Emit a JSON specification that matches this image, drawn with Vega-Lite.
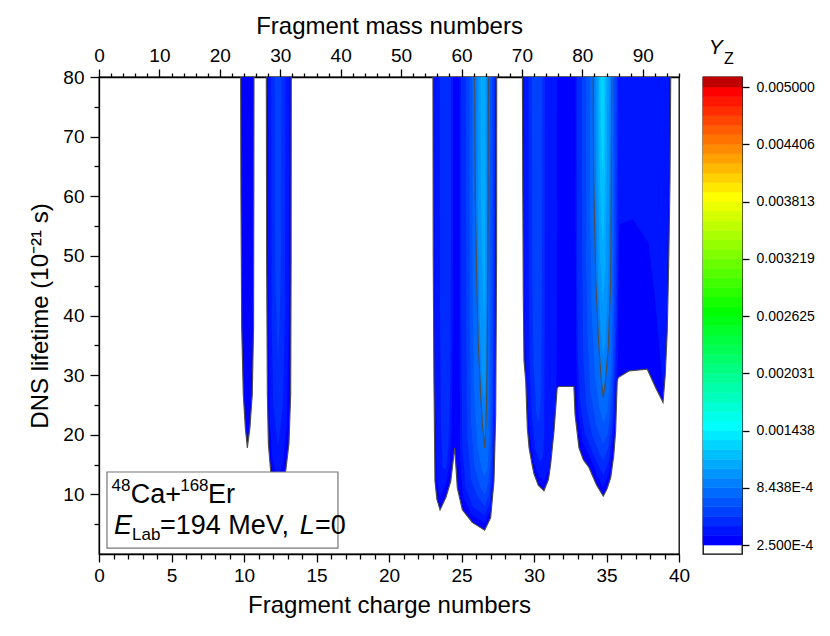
{
  "$schema": "https://vega.github.io/schema/vega-lite/v6.json",
  "background": "white",
  "padding": {"left": 28, "top": 13, "right": 5, "bottom": 5},
  "config": {
    "font": "Liberation Sans",
    "view": {"stroke": "black", "strokeWidth": 1.3},
    "axis": {"domainColor": "black", "domainWidth": 1.3, "tickColor": "black", "tickWidth": 1.3, "labelColor": "black", "titleColor": "black", "labelFont": "Liberation Sans", "titleFont": "Liberation Sans", "titleFontWeight": "normal", "grid": false, "labelFontSize": 19, "titleFontSize": 24}
  },
  "datasets": {
    "fingers": [
      {"f":"A0","k":0,"z":9.77,"t":80},{"f":"A0","k":0,"z":9.79,"t":60},{"f":"A0","k":0,"z":9.84,"t":38},{"f":"A0","k":0,"z":9.95,"t":26.8},{"f":"A0","k":0,"z":10.09,"t":21.2},{"f":"A0","k":0,"z":10.23,"t":17.8},{"f":"A0","k":0,"z":10.41,"t":21.2},{"f":"A0","k":0,"z":10.57,"t":26.8},{"f":"A0","k":0,"z":10.66,"t":38},{"f":"A0","k":0,"z":10.68,"t":60},{"f":"A0","k":0,"z":10.69,"t":80},

      {"f":"B0","k":0,"z":11.54,"t":80},{"f":"B0","k":0,"z":11.56,"t":50},{"f":"B0","k":0,"z":11.61,"t":26.8},{"f":"B0","k":0,"z":11.68,"t":18.5},{"f":"B0","k":0,"z":11.84,"t":13.8},{"f":"B0","k":0,"z":12.05,"t":10.5},{"f":"B0","k":0,"z":12.35,"t":9},{"f":"B0","k":0,"z":12.65,"t":10.5},{"f":"B0","k":0,"z":12.87,"t":13.8},{"f":"B0","k":0,"z":13.1,"t":18.5},{"f":"B0","k":0,"z":13.22,"t":26.8},{"f":"B0","k":0,"z":13.25,"t":50},{"f":"B0","k":0,"z":13.26,"t":80},
      {"f":"B1","k":1,"z":11.66,"t":80},{"f":"B1","k":1,"z":11.69,"t":40},{"f":"B1","k":1,"z":11.78,"t":22},{"f":"B1","k":1,"z":11.98,"t":15.5},{"f":"B1","k":1,"z":12.35,"t":12.5},{"f":"B1","k":1,"z":12.72,"t":15.5},{"f":"B1","k":1,"z":12.95,"t":22},{"f":"B1","k":1,"z":13.1,"t":40},{"f":"B1","k":1,"z":13.14,"t":80},
      {"f":"B2","k":2,"z":11.86,"t":80},{"f":"B2","k":2,"z":11.9,"t":40},{"f":"B2","k":2,"z":12.02,"t":25},{"f":"B2","k":2,"z":12.35,"t":18},{"f":"B2","k":2,"z":12.68,"t":25},{"f":"B2","k":2,"z":12.82,"t":40},{"f":"B2","k":2,"z":12.86,"t":80},
      {"f":"B3","k":3,"z":12.12,"t":80},{"f":"B3","k":3,"z":12.16,"t":45},{"f":"B3","k":3,"z":12.35,"t":32},{"f":"B3","k":3,"z":12.52,"t":45},{"f":"B3","k":3,"z":12.58,"t":80},

      {"f":"C0","k":0,"z":23.03,"t":80},{"f":"C0","k":0,"z":23.05,"t":50},{"f":"C0","k":0,"z":23.1,"t":29},{"f":"C0","k":0,"z":23.17,"t":12.2},{"f":"C0","k":0,"z":23.3,"t":9.2},{"f":"C0","k":0,"z":23.52,"t":7.4},{"f":"C0","k":0,"z":23.93,"t":9.5},{"f":"C0","k":0,"z":24.26,"t":12.2},{"f":"C0","k":0,"z":24.53,"t":17.8},{"f":"C0","k":0,"z":24.71,"t":11.1},{"f":"C0","k":0,"z":25.06,"t":7.4},{"f":"C0","k":0,"z":25.74,"t":5.3},{"f":"C0","k":0,"z":26.6,"t":4.0},{"f":"C0","k":0,"z":27.01,"t":6.1},{"f":"C0","k":0,"z":27.24,"t":12.2},{"f":"C0","k":0,"z":27.36,"t":23.5},{"f":"C0","k":0,"z":27.42,"t":50},{"f":"C0","k":0,"z":27.43,"t":80},
      {"f":"C1L","k":1,"z":23.12,"t":80},{"f":"C1L","k":1,"z":23.14,"t":40},{"f":"C1L","k":1,"z":23.2,"t":20},{"f":"C1L","k":1,"z":23.3,"t":12.5},{"f":"C1L","k":1,"z":23.52,"t":9.6},{"f":"C1L","k":1,"z":23.9,"t":11.5},{"f":"C1L","k":1,"z":24.18,"t":15},{"f":"C1L","k":1,"z":24.34,"t":22},{"f":"C1L","k":1,"z":24.4,"t":40},{"f":"C1L","k":1,"z":24.41,"t":80},
      {"f":"C2L","k":2,"z":23.5,"t":80},{"f":"C2L","k":2,"z":23.52,"t":40},{"f":"C2L","k":2,"z":23.58,"t":22},{"f":"C2L","k":2,"z":23.7,"t":14.5},{"f":"C2L","k":2,"z":23.92,"t":14.2},{"f":"C2L","k":2,"z":24.1,"t":18},{"f":"C2L","k":2,"z":24.22,"t":28},{"f":"C2L","k":2,"z":24.26,"t":50},{"f":"C2L","k":2,"z":24.27,"t":80},
      {"f":"C1R","k":1,"z":24.85,"t":80},{"f":"C1R","k":1,"z":24.86,"t":40},{"f":"C1R","k":1,"z":24.9,"t":16},{"f":"C1R","k":1,"z":25.1,"t":9.6},{"f":"C1R","k":1,"z":25.7,"t":6.6},{"f":"C1R","k":1,"z":26.6,"t":5.2},{"f":"C1R","k":1,"z":27.0,"t":7.3},{"f":"C1R","k":1,"z":27.19,"t":12.8},{"f":"C1R","k":1,"z":27.3,"t":22.5},{"f":"C1R","k":1,"z":27.36,"t":50},{"f":"C1R","k":1,"z":27.38,"t":80},
      {"f":"C2R","k":2,"z":24.97,"t":80},{"f":"C2R","k":2,"z":24.99,"t":40},{"f":"C2R","k":2,"z":25.05,"t":18},{"f":"C2R","k":2,"z":25.3,"t":11},{"f":"C2R","k":2,"z":25.8,"t":7.9},{"f":"C2R","k":2,"z":26.6,"t":6.5},{"f":"C2R","k":2,"z":26.96,"t":8.4},{"f":"C2R","k":2,"z":27.14,"t":13.3},{"f":"C2R","k":2,"z":27.25,"t":23.5},{"f":"C2R","k":2,"z":27.3,"t":50},{"f":"C2R","k":2,"z":27.32,"t":80},
      {"f":"C3","k":3,"z":25.3,"t":80},{"f":"C3","k":3,"z":25.32,"t":40},{"f":"C3","k":3,"z":25.4,"t":20},{"f":"C3","k":3,"z":25.65,"t":12.6},{"f":"C3","k":3,"z":26.1,"t":9.6},{"f":"C3","k":3,"z":26.6,"t":8.0},{"f":"C3","k":3,"z":26.9,"t":9.9},{"f":"C3","k":3,"z":27.07,"t":14.6},{"f":"C3","k":3,"z":27.17,"t":25},{"f":"C3","k":3,"z":27.21,"t":50},{"f":"C3","k":3,"z":27.22,"t":80},
      {"f":"C4","k":4,"z":25.55,"t":80},{"f":"C4","k":4,"z":25.57,"t":40},{"f":"C4","k":4,"z":25.65,"t":22},{"f":"C4","k":4,"z":25.9,"t":14.6},{"f":"C4","k":4,"z":26.3,"t":11.2},{"f":"C4","k":4,"z":26.6,"t":10.0},{"f":"C4","k":4,"z":26.85,"t":11.9},{"f":"C4","k":4,"z":27.0,"t":16},{"f":"C4","k":4,"z":27.07,"t":27},{"f":"C4","k":4,"z":27.09,"t":50},{"f":"C4","k":4,"z":27.1,"t":80},
      {"f":"C5","k":5,"z":25.75,"t":80},{"f":"C5","k":5,"z":25.77,"t":45},{"f":"C5","k":5,"z":25.85,"t":28},{"f":"C5","k":5,"z":26.1,"t":18},{"f":"C5","k":5,"z":26.4,"t":14.2},{"f":"C5","k":5,"z":26.6,"t":13.0},{"f":"C5","k":5,"z":26.8,"t":14.6},{"f":"C5","k":5,"z":26.9,"t":19},{"f":"C5","k":5,"z":26.94,"t":32},{"f":"C5","k":5,"z":26.95,"t":80},
      {"f":"C6","k":6,"z":25.91,"t":80},{"f":"C6","k":6,"z":25.95,"t":60},{"f":"C6","k":6,"z":26.07,"t":43.6},{"f":"C6","k":6,"z":26.16,"t":35.2},{"f":"C6","k":6,"z":26.32,"t":26.8},{"f":"C6","k":6,"z":26.45,"t":21.6},{"f":"C6","k":6,"z":26.6,"t":17.8},{"f":"C6","k":6,"z":26.68,"t":21.6},{"f":"C6","k":6,"z":26.74,"t":26.8},{"f":"C6","k":6,"z":26.78,"t":35.2},{"f":"C6","k":6,"z":26.8,"t":45},{"f":"C6","k":6,"z":26.83,"t":60},{"f":"C6","k":6,"z":26.85,"t":80},
      {"f":"C7","k":7,"z":26.1,"t":80},{"f":"C7","k":7,"z":26.14,"t":55},{"f":"C7","k":7,"z":26.25,"t":40},{"f":"C7","k":7,"z":26.4,"t":30},{"f":"C7","k":7,"z":26.56,"t":25.5},{"f":"C7","k":7,"z":26.66,"t":29},{"f":"C7","k":7,"z":26.72,"t":42},{"f":"C7","k":7,"z":26.74,"t":60},{"f":"C7","k":7,"z":26.75,"t":80},
      {"f":"C8","k":8,"z":26.3,"t":80},{"f":"C8","k":8,"z":26.33,"t":60},{"f":"C8","k":8,"z":26.45,"t":46},{"f":"C8","k":8,"z":26.56,"t":39},{"f":"C8","k":8,"z":26.62,"t":46},{"f":"C8","k":8,"z":26.64,"t":62},{"f":"C8","k":8,"z":26.65,"t":80},

      {"f":"D0","k":0,"z":29.2,"t":80},{"f":"D0","k":0,"z":29.23,"t":60},{"f":"D0","k":0,"z":29.26,"t":43.6},{"f":"D0","k":0,"z":29.31,"t":32.4},{"f":"D0","k":0,"z":29.43,"t":29},{"f":"D0","k":0,"z":29.54,"t":21.2},{"f":"D0","k":0,"z":29.66,"t":17.8},{"f":"D0","k":0,"z":29.85,"t":15.2},{"f":"D0","k":0,"z":30.0,"t":13.4},{"f":"D0","k":0,"z":30.3,"t":11.5},{"f":"D0","k":0,"z":30.69,"t":10.6},{"f":"D0","k":0,"z":31.0,"t":12.5},{"f":"D0","k":0,"z":31.15,"t":15.1},{"f":"D0","k":0,"z":31.38,"t":20.6},{"f":"D0","k":0,"z":31.6,"t":27.9},{"f":"D0","k":0,"z":31.72,"t":28.1},{"f":"D0","k":0,"z":32.75,"t":28.1},{"f":"D0","k":0,"z":32.83,"t":23.4},{"f":"D0","k":0,"z":33.1,"t":17.8},{"f":"D0","k":0,"z":33.4,"t":15.8},{"f":"D0","k":0,"z":33.79,"t":14.5},{"f":"D0","k":0,"z":34.3,"t":11.6},{"f":"D0","k":0,"z":34.78,"t":9.7},{"f":"D0","k":0,"z":35.05,"t":11.0},{"f":"D0","k":0,"z":35.29,"t":12.8},{"f":"D0","k":0,"z":35.5,"t":16.5},{"f":"D0","k":0,"z":35.63,"t":20.6},{"f":"D0","k":0,"z":35.74,"t":29.0},{"f":"D0","k":0,"z":35.81,"t":29.6},{"f":"D0","k":0,"z":36.55,"t":30.7},{"f":"D0","k":0,"z":37.81,"t":31.0},{"f":"D0","k":0,"z":38.39,"t":27.9},{"f":"D0","k":0,"z":38.9,"t":25.4},{"f":"D0","k":0,"z":39.05,"t":30},{"f":"D0","k":0,"z":39.19,"t":37.4},{"f":"D0","k":0,"z":39.3,"t":50},{"f":"D0","k":0,"z":39.38,"t":62.6},{"f":"D0","k":0,"z":39.43,"t":80},
      {"f":"D1a","k":1,"z":29.3,"t":80},{"f":"D1a","k":1,"z":29.32,"t":50},{"f":"D1a","k":1,"z":29.37,"t":38},{"f":"D1a","k":1,"z":29.5,"t":28},{"f":"D1a","k":1,"z":29.7,"t":20},{"f":"D1a","k":1,"z":30.0,"t":15.2},{"f":"D1a","k":1,"z":30.35,"t":13},{"f":"D1a","k":1,"z":30.69,"t":12.3},{"f":"D1a","k":1,"z":31.0,"t":14},{"f":"D1a","k":1,"z":31.2,"t":17.5},{"f":"D1a","k":1,"z":31.42,"t":23},{"f":"D1a","k":1,"z":31.54,"t":29.5},{"f":"D1a","k":1,"z":31.58,"t":45},{"f":"D1a","k":1,"z":31.6,"t":80},
      {"f":"D2a","k":2,"z":29.62,"t":80},{"f":"D2a","k":2,"z":29.64,"t":45},{"f":"D2a","k":2,"z":29.7,"t":32},{"f":"D2a","k":2,"z":29.85,"t":23},{"f":"D2a","k":2,"z":30.1,"t":17.5},{"f":"D2a","k":2,"z":30.4,"t":15.5},{"f":"D2a","k":2,"z":30.6,"t":16.2},{"f":"D2a","k":2,"z":30.7,"t":20},{"f":"D2a","k":2,"z":30.74,"t":40},{"f":"D2a","k":2,"z":30.75,"t":80},
      {"f":"D3a","k":3,"z":29.85,"t":80},{"f":"D3a","k":3,"z":29.88,"t":50},{"f":"D3a","k":3,"z":29.96,"t":33},{"f":"D3a","k":3,"z":30.15,"t":24},{"f":"D3a","k":3,"z":30.35,"t":22},{"f":"D3a","k":3,"z":30.5,"t":28},{"f":"D3a","k":3,"z":30.56,"t":50},{"f":"D3a","k":3,"z":30.57,"t":80},
      {"f":"D1b","k":1,"z":32.86,"t":80},{"f":"D1b","k":1,"z":32.88,"t":50},{"f":"D1b","k":1,"z":32.92,"t":32},{"f":"D1b","k":1,"z":33.05,"t":24},{"f":"D1b","k":1,"z":33.3,"t":19},{"f":"D1b","k":1,"z":33.9,"t":16},{"f":"D1b","k":1,"z":34.4,"t":13},{"f":"D1b","k":1,"z":34.78,"t":11.2},{"f":"D1b","k":1,"z":35.2,"t":13.8},{"f":"D1b","k":1,"z":35.5,"t":20},{"f":"D1b","k":1,"z":35.65,"t":26},{"f":"D1b","k":1,"z":35.72,"t":30},{"f":"D1b","k":1,"z":35.8,"t":33},{"f":"D1b","k":1,"z":35.86,"t":55.3},{"f":"D1b","k":1,"z":36.8,"t":56.2},{"f":"D1b","k":1,"z":37.9,"t":52.2},{"f":"D1b","k":1,"z":38.3,"t":44},{"f":"D1b","k":1,"z":38.7,"t":33},{"f":"D1b","k":1,"z":38.92,"t":27.5},{"f":"D1b","k":1,"z":39.12,"t":36},{"f":"D1b","k":1,"z":39.28,"t":60},{"f":"D1b","k":1,"z":39.34,"t":80},
      {"f":"D2b","k":2,"z":32.95,"t":80},{"f":"D2b","k":2,"z":32.97,"t":50},{"f":"D2b","k":2,"z":33.02,"t":33},{"f":"D2b","k":2,"z":33.2,"t":25},{"f":"D2b","k":2,"z":33.5,"t":20.5},{"f":"D2b","k":2,"z":34.0,"t":17.2},{"f":"D2b","k":2,"z":34.5,"t":14.6},{"f":"D2b","k":2,"z":34.78,"t":13.2},{"f":"D2b","k":2,"z":35.15,"t":15.5},{"f":"D2b","k":2,"z":35.45,"t":22},{"f":"D2b","k":2,"z":35.6,"t":30},{"f":"D2b","k":2,"z":35.72,"t":40},{"f":"D2b","k":2,"z":35.78,"t":55},{"f":"D2b","k":2,"z":35.8,"t":80},
      {"f":"D3b","k":3,"z":33.3,"t":80},{"f":"D3b","k":3,"z":33.32,"t":50},{"f":"D3b","k":3,"z":33.4,"t":33},{"f":"D3b","k":3,"z":33.6,"t":25},{"f":"D3b","k":3,"z":34.0,"t":20},{"f":"D3b","k":3,"z":34.5,"t":17},{"f":"D3b","k":3,"z":34.78,"t":15.6},{"f":"D3b","k":3,"z":35.1,"t":17.6},{"f":"D3b","k":3,"z":35.4,"t":23.5},{"f":"D3b","k":3,"z":35.55,"t":32},{"f":"D3b","k":3,"z":35.66,"t":45},{"f":"D3b","k":3,"z":35.7,"t":80},
      {"f":"D4","k":4,"z":33.57,"t":80},{"f":"D4","k":4,"z":33.6,"t":50},{"f":"D4","k":4,"z":33.7,"t":36},{"f":"D4","k":4,"z":33.9,"t":27},{"f":"D4","k":4,"z":34.3,"t":21.5},{"f":"D4","k":4,"z":34.78,"t":18.5},{"f":"D4","k":4,"z":35.1,"t":20.5},{"f":"D4","k":4,"z":35.35,"t":26.5},{"f":"D4","k":4,"z":35.48,"t":35},{"f":"D4","k":4,"z":35.53,"t":50},{"f":"D4","k":4,"z":35.55,"t":80},
      {"f":"D5","k":5,"z":33.85,"t":80},{"f":"D5","k":5,"z":33.88,"t":55},{"f":"D5","k":5,"z":33.98,"t":40},{"f":"D5","k":5,"z":34.2,"t":30},{"f":"D5","k":5,"z":34.5,"t":24.6},{"f":"D5","k":5,"z":34.78,"t":22},{"f":"D5","k":5,"z":35.05,"t":24},{"f":"D5","k":5,"z":35.3,"t":30},{"f":"D5","k":5,"z":35.42,"t":42},{"f":"D5","k":5,"z":35.44,"t":60},{"f":"D5","k":5,"z":35.45,"t":80},
      {"f":"D6","k":6,"z":34.08,"t":80},{"f":"D6","k":6,"z":34.12,"t":62.6},{"f":"D6","k":6,"z":34.26,"t":45.8},{"f":"D6","k":6,"z":34.48,"t":34.6},{"f":"D6","k":6,"z":34.65,"t":29},{"f":"D6","k":6,"z":34.78,"t":26.2},{"f":"D6","k":6,"z":34.92,"t":29},{"f":"D6","k":6,"z":35.12,"t":34.6},{"f":"D6","k":6,"z":35.29,"t":45.8},{"f":"D6","k":6,"z":35.33,"t":62.6},{"f":"D6","k":6,"z":35.36,"t":80},
      {"f":"D7","k":7,"z":34.25,"t":80},{"f":"D7","k":7,"z":34.3,"t":60},{"f":"D7","k":7,"z":34.42,"t":46},{"f":"D7","k":7,"z":34.6,"t":37},{"f":"D7","k":7,"z":34.78,"t":33},{"f":"D7","k":7,"z":34.95,"t":37},{"f":"D7","k":7,"z":35.12,"t":46},{"f":"D7","k":7,"z":35.2,"t":62},{"f":"D7","k":7,"z":35.22,"t":80},
      {"f":"D8","k":8,"z":34.38,"t":80},{"f":"D8","k":8,"z":34.42,"t":62},{"f":"D8","k":8,"z":34.55,"t":50},{"f":"D8","k":8,"z":34.75,"t":42},{"f":"D8","k":8,"z":34.92,"t":48},{"f":"D8","k":8,"z":35.02,"t":62},{"f":"D8","k":8,"z":35.06,"t":80},
      {"f":"D9","k":9,"z":34.48,"t":80},{"f":"D9","k":9,"z":34.52,"t":66},{"f":"D9","k":9,"z":34.64,"t":56},{"f":"D9","k":9,"z":34.75,"t":52},{"f":"D9","k":9,"z":34.85,"t":57},{"f":"D9","k":9,"z":34.92,"t":67},{"f":"D9","k":9,"z":34.94,"t":80},
      {"f":"D10","k":10,"z":34.58,"t":80},{"f":"D10","k":10,"z":34.62,"t":71},{"f":"D10","k":10,"z":34.72,"t":64},{"f":"D10","k":10,"z":34.8,"t":67},{"f":"D10","k":10,"z":34.84,"t":74},{"f":"D10","k":10,"z":34.85,"t":80}
    ],
    "bar": [
      {"k":0,"k2":1},{"k":1,"k2":2},{"k":2,"k2":3},{"k":3,"k2":4},{"k":4,"k2":5},{"k":5,"k2":6},{"k":6,"k2":7},{"k":7,"k2":8},{"k":8,"k2":9},{"k":9,"k2":10},
      {"k":10,"k2":11},{"k":11,"k2":12},{"k":12,"k2":13},{"k":13,"k2":14},{"k":14,"k2":15},{"k":15,"k2":16},{"k":16,"k2":17},{"k":17,"k2":18},{"k":18,"k2":19},{"k":19,"k2":20},
      {"k":20,"k2":21},{"k":21,"k2":22},{"k":22,"k2":23},{"k":23,"k2":24},{"k":24,"k2":25},{"k":25,"k2":26},{"k":26,"k2":27},{"k":27,"k2":28},{"k":28,"k2":29},{"k":29,"k2":30},
      {"k":30,"k2":31},{"k":31,"k2":32},{"k":32,"k2":33},{"k":33,"k2":34},{"k":34,"k2":35},{"k":35,"k2":36},{"k":36,"k2":37},{"k":37,"k2":38},{"k":38,"k2":39},{"k":39,"k2":40},
      {"k":40,"k2":41},{"k":41,"k2":42},{"k":42,"k2":43},{"k":43,"k2":44},{"k":44,"k2":45},{"k":45,"k2":46},{"k":46,"k2":47},{"k":47,"k2":48},{"k":48,"k2":49.05}
    ]
  },
  "hconcat": [
    {
      "width": 580,
      "height": 477,
      "layer": [
        {
          "data": {"name": "fingers"},
          "encoding": {
            "x": {"field": "z", "type": "quantitative", "scale": {"domain": [0, 40], "nice": false, "zero": false},
              "axis": {"title": "Fragment charge numbers", "values": [0,1,2,3,4,5,6,7,8,9,10,11,12,13,14,15,16,17,18,19,20,21,22,23,24,25,26,27,28,29,30,31,32,33,34,35,36,37,38,39,40],
                "labelExpr": "datum.value % 5 === 0 ? datum.label : ''",
                "tickSize": {"condition": {"test": "datum.value % 5 === 0", "value": 8}, "value": 5},
                "labelPadding": 4, "titlePadding": 8, "labelFlush": false, "labelOverlap": false}},
            "y": {"field": "t", "type": "quantitative", "stack": null, "scale": {"domain": [0, 80], "nice": false, "zero": false},
              "axis": {"title": "DNS lifetime (10⁻²¹ s)", "values": [5,10,15,20,25,30,35,40,45,50,55,60,65,70,75,80],
                "labelExpr": "datum.value % 10 === 0 ? datum.label : ''",
                "tickSize": {"condition": {"test": "datum.value % 10 === 0", "value": 9}, "value": 5},
                "labelPadding": 6, "titlePadding": 10, "labelFlush": false, "labelOverlap": false}},
            "y2": {"datum": 80},
            "color": {"field": "k", "type": "quantitative", "scale": {"domain": [0, 12, 24, 36, 47, 48], "range": ["#0000ff", "#00ffff", "#00ff00", "#ffff00", "#ff0000", "#bf0000"], "interpolate": "rgb"}, "legend": null},
            "detail": {"field": "f"}
          },
          "layer": [
            {"transform": [{"filter": "datum.k === 0"}], "mark": {"type": "area", "interpolate": "linear"}},
            {"transform": [{"filter": "datum.k === 1"}], "mark": {"type": "area", "interpolate": "linear"}},
            {"transform": [{"filter": "datum.k === 2"}], "mark": {"type": "area", "interpolate": "linear"}},
            {"transform": [{"filter": "datum.k === 3"}], "mark": {"type": "area", "interpolate": "linear"}},
            {"transform": [{"filter": "datum.k === 4"}], "mark": {"type": "area", "interpolate": "linear"}},
            {"transform": [{"filter": "datum.k === 5"}], "mark": {"type": "area", "interpolate": "linear"}},
            {"transform": [{"filter": "datum.k === 6"}], "mark": {"type": "area", "interpolate": "linear"}},
            {"transform": [{"filter": "datum.k === 7"}], "mark": {"type": "area", "interpolate": "linear"}},
            {"transform": [{"filter": "datum.k === 8"}], "mark": {"type": "area", "interpolate": "linear"}},
            {"transform": [{"filter": "datum.k === 9"}], "mark": {"type": "area", "interpolate": "linear"}},
            {"transform": [{"filter": "datum.k === 10"}], "mark": {"type": "area", "interpolate": "linear"}},
            {"transform": [{"filter": "indexof(['A0','B0','C0','D0','C6','D6'], datum.f) >= 0"}],
              "mark": {"type": "line", "interpolate": "linear", "strokeWidth": 1.1},
              "encoding": {"color": {"value": "#4d4d4d"}, "y2": null}}
          ]
        },
        {
          "data": {"values": [{"d": 1}]},
          "layer": [
            {"mark": {"type": "rect", "fill": "white", "stroke": "#777777", "strokeWidth": 1.2},
              "encoding": {"x": {"datum": 0.55, "type": "quantitative", "scale": {"domain": [0, 40], "nice": false, "zero": false}, "axis": null}, "x2": {"datum": 16.48}, "y": {"datum": 13.75, "type": "quantitative", "scale": {"domain": [0, 80], "nice": false, "zero": false}, "axis": null}, "y2": {"datum": 1.0}}},
            {"mark": {"type": "text", "text": "48", "fontSize": 17, "align": "left", "baseline": "alphabetic", "font": "Liberation Sans", "color": "black"},
              "encoding": {"x": {"datum": 0.87, "type": "quantitative", "axis": null}, "y": {"datum": 10.6, "type": "quantitative", "axis": null}}},
            {"mark": {"type": "text", "text": "Ca+", "fontSize": 27, "align": "left", "baseline": "alphabetic", "font": "Liberation Sans", "color": "black"},
              "encoding": {"x": {"datum": 2.19, "type": "quantitative", "axis": null}, "y": {"datum": 8.5, "type": "quantitative", "axis": null}}},
            {"mark": {"type": "text", "text": "168", "fontSize": 17, "align": "left", "baseline": "alphabetic", "font": "Liberation Sans", "color": "black"},
              "encoding": {"x": {"datum": 5.6, "type": "quantitative", "axis": null}, "y": {"datum": 10.6, "type": "quantitative", "axis": null}}},
            {"mark": {"type": "text", "text": "Er", "fontSize": 27, "align": "left", "baseline": "alphabetic", "font": "Liberation Sans", "color": "black"},
              "encoding": {"x": {"datum": 7.52, "type": "quantitative", "axis": null}, "y": {"datum": 8.5, "type": "quantitative", "axis": null}}},
            {"mark": {"type": "text", "text": "E", "fontSize": 27, "fontStyle": "italic", "align": "left", "baseline": "alphabetic", "font": "Liberation Sans", "color": "black"},
              "encoding": {"x": {"datum": 1.03, "type": "quantitative", "axis": null}, "y": {"datum": 3.3, "type": "quantitative", "axis": null}}},
            {"mark": {"type": "text", "text": "Lab", "fontSize": 17, "align": "left", "baseline": "alphabetic", "font": "Liberation Sans", "color": "black"},
              "encoding": {"x": {"datum": 2.28, "type": "quantitative", "axis": null}, "y": {"datum": 2.35, "type": "quantitative", "axis": null}}},
            {"mark": {"type": "text", "text": "=194 MeV,", "fontSize": 27, "align": "left", "baseline": "alphabetic", "font": "Liberation Sans", "color": "black"},
              "encoding": {"x": {"datum": 4.21, "type": "quantitative", "axis": null}, "y": {"datum": 3.3, "type": "quantitative", "axis": null}}},
            {"mark": {"type": "text", "text": "L", "fontSize": 27, "fontStyle": "italic", "align": "left", "baseline": "alphabetic", "font": "Liberation Sans", "color": "black"},
              "encoding": {"x": {"datum": 13.85, "type": "quantitative", "axis": null}, "y": {"datum": 3.3, "type": "quantitative", "axis": null}}},
            {"mark": {"type": "text", "text": "=0", "fontSize": 27, "align": "left", "baseline": "alphabetic", "font": "Liberation Sans", "color": "black"},
              "encoding": {"x": {"datum": 14.9, "type": "quantitative", "axis": null}, "y": {"datum": 3.3, "type": "quantitative", "axis": null}}}
          ]
        },
        {
          "data": {"values": [{"d": 1}]},
          "mark": {"type": "point", "opacity": 0},
          "encoding": {
            "x": {"datum": 0, "type": "quantitative", "scale": {"domain": [0, 96], "nice": false, "zero": false},
              "axis": {"orient": "top", "title": "Fragment mass numbers", "values": [0,2,4,6,8,10,12,14,16,18,20,22,24,26,28,30,32,34,36,38,40,42,44,46,48,50,52,54,56,58,60,62,64,66,68,70,72,74,76,78,80,82,84,86,88,90,92,94,96],
                "labelExpr": "datum.value % 10 === 0 ? datum.label : ''",
                "tickSize": {"condition": {"test": "datum.value % 10 === 0", "value": 8}, "value": 4},
                "labelPadding": 4, "titlePadding": 8, "labelFlush": false, "labelOverlap": false}},
            "y": {"datum": 40, "type": "quantitative", "scale": {"domain": [0, 80]}, "axis": null}
          }
        }
      ],
      "resolve": {"scale": {"x": "independent", "y": "independent"}, "axis": {"x": "independent", "y": "independent"}}
    },
    {
      "width": 39,
      "height": 477,
      "layer": [
        {
          "data": {"name": "bar"},
          "mark": {"type": "rect", "strokeWidth": 0.6},
          "encoding": {
            "x": {"datum": 0, "type": "quantitative", "scale": {"domain": [0, 1], "nice": false, "zero": false}, "axis": null},
            "x2": {"datum": 1},
            "y": {"field": "k", "type": "quantitative", "scale": {"domain": [-0.94, 49.05], "nice": false, "zero": false},
              "axis": {"orient": "right", "title": null, "domain": false, "values": [0, 6, 12, 18, 24, 30, 36, 42, 48],
                "labelExpr": "['2.500E-4','8.438E-4','0.001438','0.002031','0.002625','0.003219','0.003813','0.004406','0.005000'][round(datum.value/6)]",
                "tickSize": 7, "labelFontSize": 14, "labelPadding": 7, "labelFlush": false, "labelOverlap": false}},
            "y2": {"field": "k2"},
            "color": {"field": "k", "type": "quantitative", "scale": {"domain": [0, 12, 24, 36, 47, 48], "range": ["#0000ff", "#00ffff", "#00ff00", "#ffff00", "#ff0000", "#bf0000"], "interpolate": "rgb"}, "legend": null},
            "stroke": {"field": "k", "type": "quantitative", "scale": {"domain": [0, 12, 24, 36, 47, 48], "range": ["#0000ff", "#00ffff", "#00ff00", "#ffff00", "#ff0000", "#bf0000"], "interpolate": "rgb"}, "legend": null}
          }
        },
        {"data": {"values": [{"d": 1}]}, "mark": {"type": "text", "text": "Y", "fontSize": 21, "fontStyle": "italic", "align": "left", "baseline": "alphabetic", "dy": -23, "font": "Liberation Sans", "color": "black"},
          "encoding": {"x": {"datum": 0.15, "type": "quantitative"}, "y": {"datum": 49.05, "type": "quantitative"}}},
        {"data": {"values": [{"d": 1}]}, "mark": {"type": "text", "text": "Z", "fontSize": 16, "align": "left", "baseline": "alphabetic", "dy": -13, "font": "Liberation Sans", "color": "black"},
          "encoding": {"x": {"datum": 0.54, "type": "quantitative"}, "y": {"datum": 49.05, "type": "quantitative"}}}
      ]
    }
  ],
  "spacing": 24,
  "bounds": "flush"
}
